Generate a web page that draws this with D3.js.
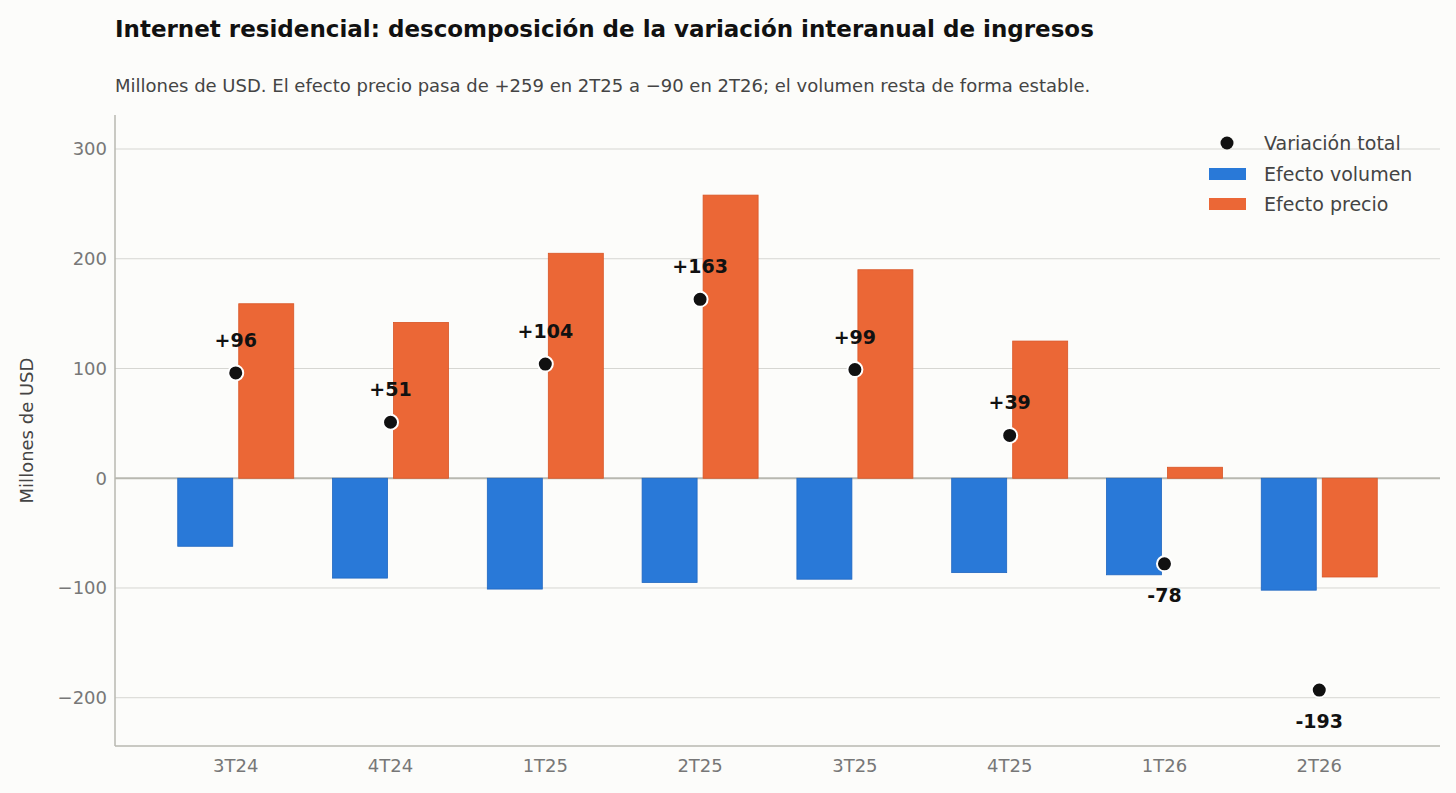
<!DOCTYPE html>
<html><head><meta charset="utf-8">
<script src="https://cdn.jsdelivr.net/npm/d3@7"></script>
<style>body{margin:0;background:#fcfcfa}svg{font-family:"DejaVu Sans",sans-serif}</style>
</head><body><svg id="c" width="1456" height="793"></svg>
<script>
const categories = ["3T24","4T24","1T25","2T25","3T25","4T25","1T26","2T26"];
const volumen = [-62,-91,-101,-95,-92,-86,-88,-102];
const precio = [159,142,205,258,190,125,10,-90];
const total = [96,51,104,163,99,39,-78,-193];
const yTicks = [-200,-100,0,100,200,300];

const svg = d3.select("#c");
svg.append("rect").attr("width",1456).attr("height",793).attr("fill","#fcfcfa");
const L=115,R=1440,T=115,B=746;
const x = d3.scalePoint().domain(categories).range([L,R]).padding(0.78);
const y = d3.scaleLinear().domain([-244,331]).range([B,T]);
const bw=55, off=30.5;

svg.append("g").selectAll("line").data(yTicks).join("line")
 .attr("x1",L).attr("x2",R).attr("y1",d=>y(d)).attr("y2",d=>y(d))
 .attr("stroke",d=>d===0?"#b8b8b0":"#d6d6d2").attr("stroke-width",d=>d===0?2:1);
svg.append("g").selectAll("text").data(yTicks).join("text")
 .attr("x",L-8).attr("y",d=>y(d)).attr("dy","0.35em").attr("text-anchor","end")
 .attr("font-size",18).attr("fill","#777").text(d=>d<0?"\u2212"+Math.abs(d):d);
svg.append("g").selectAll("text").data(categories).join("text")
 .attr("x",d=>x(d)).attr("y",B+26).attr("text-anchor","middle")
 .attr("font-size",18).attr("fill","#777").text(d=>d);
svg.append("line").attr("x1",L).attr("x2",L).attr("y1",T).attr("y2",B).attr("stroke","#b8b8b0").attr("stroke-width",1.5);
svg.append("line").attr("x1",L).attr("x2",R).attr("y1",B).attr("y2",B).attr("stroke","#b8b8b0").attr("stroke-width",1.5);

svg.append("g").selectAll("rect").data(volumen).join("rect")
 .attr("x",(d,i)=>x(categories[i])-off-bw/2).attr("width",bw)
 .attr("y",d=>Math.min(y(d),y(0))).attr("height",d=>Math.abs(y(d)-y(0)))
 .attr("fill","#2979d8").attr("stroke","#1f66c0").attr("stroke-width",0.8);
svg.append("g").selectAll("rect").data(precio).join("rect")
 .attr("x",(d,i)=>x(categories[i])+off-bw/2).attr("width",bw)
 .attr("y",d=>Math.min(y(d),y(0))).attr("height",d=>Math.abs(y(d)-y(0)))
 .attr("fill","#eb6736").attr("stroke","#d85526").attr("stroke-width",0.8);
svg.append("g").selectAll("circle").data(total).join("circle")
 .attr("cx",(d,i)=>x(categories[i])).attr("cy",d=>y(d)).attr("r",7.5)
 .attr("fill","#111").attr("stroke","#fff").attr("stroke-width",2);
svg.append("g").selectAll("text").data(total).join("text")
 .attr("x",(d,i)=>x(categories[i])).attr("y",d=>d>=0?y(d)-26:y(d)+38)
 .attr("text-anchor","middle").attr("font-size",19).attr("font-weight","bold").attr("fill","#111")
 .text(d=>d>=0?"+"+d:""+d);

svg.append("text").attr("x",L).attr("y",37).attr("font-size",23).attr("font-weight","bold").attr("fill","#111")
 .text("Internet residencial: descomposición de la variación interanual de ingresos");
svg.append("text").attr("x",L).attr("y",92).attr("font-size",18).attr("fill","#444")
 .text("Millones de USD. El efecto precio pasa de +259 en 2T25 a \u221290 en 2T26; el volumen resta de forma estable.");
svg.append("text").attr("transform",`translate(33,${(T+B)/2}) rotate(-90)`).attr("text-anchor","middle")
 .attr("font-size",18).attr("fill","#444").text("Millones de USD");

const lg=svg.append("g").attr("font-size",19).attr("fill","#444");
lg.append("circle").attr("cx",1227).attr("cy",143).attr("r",6.5).attr("fill","#111");
lg.append("rect").attr("x",1209).attr("y",168).attr("width",37).attr("height",12).attr("fill","#2979d8");
lg.append("rect").attr("x",1209).attr("y",198).attr("width",37).attr("height",12).attr("fill","#eb6736");
[["Variación total",143],["Efecto volumen",174],["Efecto precio",204]].forEach(([t,yy])=>
 lg.append("text").attr("x",1264).attr("y",yy).attr("dy","0.35em").attr("fill","#444").text(t));
</script></body></html>
